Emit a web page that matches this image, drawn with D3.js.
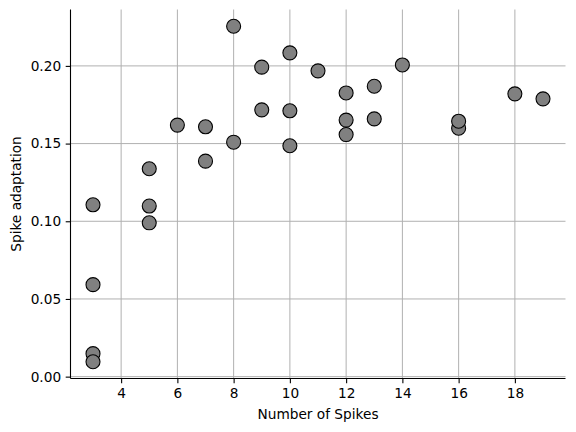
<!DOCTYPE html>
<html>
<head>
<meta charset="utf-8">
<script src="https://cdn.jsdelivr.net/npm/d3@7"></script>
<style>
  html, body { margin: 0; padding: 0; background: #fff; }
  svg text { font-family: "DejaVu Sans", sans-serif; }
</style>
</head>
<body>
<svg id="chart"></svg>
<script>
  // data
  const spikes = [3, 3, 3, 3, 5, 5, 5, 6, 7, 7, 8, 8, 9, 9, 10, 10, 10, 11, 12, 12, 12, 13, 13, 14, 16, 16, 18, 19]
  const adaptation = [0.1106, 0.0592, 0.0148, 0.0096, 0.1338, 0.1098, 0.0990, 0.1619, 0.1608, 0.1387,
    0.2255, 0.1509, 0.1992, 0.1717, 0.2084, 0.1711, 0.1486, 0.1968, 0.1826, 0.1651, 0.1558,
    0.1869, 0.1659, 0.2006, 0.1599, 0.1644, 0.1820, 0.1788]
  const xTicks = [4, 6, 8, 10, 12, 14, 16, 18]
  const yTicks = [0, 0.05, 0.10, 0.15, 0.20]

  ;(function (d3) {
    const W = 576
    const H = 432
    const mLeft = 70.5, mRight = 565.5, mTop = 9.5, mBottom = 378.5
    const FS = 13.7

    const svg = d3.select('#chart').attr('width', W).attr('height', H)

    // scales with matplotlib-like 5% margins
    const xmin = d3.min(spikes), xmax = d3.max(spikes)
    const ymin = d3.min(adaptation), ymax = d3.max(adaptation)
    const xm = (xmax - xmin) * 0.05, ym = (ymax - ymin) * 0.05
    const x = d3.scaleLinear().domain([xmin - xm, xmax + xm]).range([mLeft, mRight])
    const y = d3.scaleLinear().domain([ymin - ym, ymax + ym]).range([mBottom, mTop])

    // grid
    const grid = svg.append('g').attr('stroke', '#b0b0b0').attr('stroke-width', 1)
    grid.selectAll('.gx').data(xTicks).enter().append('line')
      .attr('x1', d => x(d)).attr('x2', d => x(d)).attr('y1', mTop).attr('y2', mBottom)
    grid.selectAll('.gy').data(yTicks).enter().append('line')
      .attr('x1', mLeft).attr('x2', mRight).attr('y1', d => y(d)).attr('y2', d => y(d))

    // points
    svg.append('g').selectAll('circle').data(spikes).enter().append('circle')
      .attr('cx', d => x(d))
      .attr('cy', (d, i) => y(adaptation[i]))
      .attr('r', 7)
      .attr('fill', '#808080')
      .attr('stroke', '#000')
      .attr('stroke-width', 1.1)

    // axes
    const xAxis = d3.axisBottom(x).tickValues(xTicks).tickSize(4.8).tickPadding(4.6).tickFormat(d3.format('d'))
    const yAxis = d3.axisLeft(y).tickValues(yTicks).tickSize(4.8).tickPadding(4.6).tickFormat(d3.format('.2f'))

    const gx = svg.append('g').attr('transform', `translate(0,${mBottom})`).call(xAxis)
    const gy = svg.append('g').attr('transform', `translate(${mLeft},0)`).call(yAxis)
    gx.select('.domain').attr('d', `M${mLeft},0H${mRight}`)
    gy.select('.domain').attr('d', `M0,${mBottom}V${mTop}`)
    ;[gx, gy].forEach(g => {
      g.selectAll('text').attr('font-size', FS).attr('fill', '#000').style('font-family', '"DejaVu Sans", sans-serif')
      g.selectAll('line').attr('stroke', '#000').attr('stroke-width', 1.1)
      g.select('.domain').attr('stroke', '#000').attr('stroke-width', 1.1)
    })

    // labels
    svg.append('text').attr('x', (mLeft + mRight) / 2).attr('y', 419)
      .attr('text-anchor', 'middle').attr('font-size', FS).text('Number of Spikes')
    svg.append('text').attr('transform', `translate(21,${(mTop + mBottom) / 2}) rotate(-90)`)
      .attr('text-anchor', 'middle').attr('font-size', FS).text('Spike adaptation')
  }(d3))
</script>
</body>
</html>
